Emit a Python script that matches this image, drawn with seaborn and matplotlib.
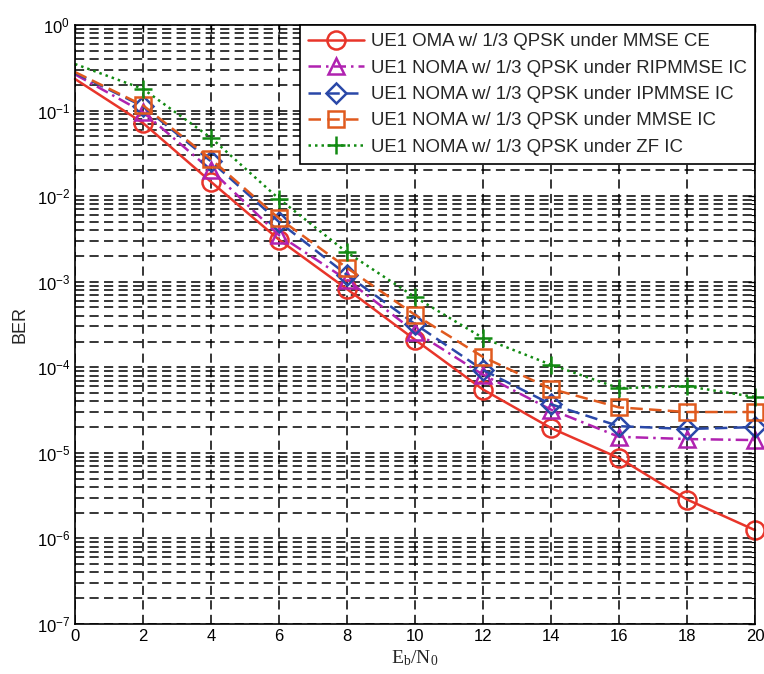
import numpy as np
import pandas as pd
import matplotlib
matplotlib.use("Agg")
import matplotlib.pyplot as plt
import matplotlib.ticker as mticker
import seaborn as sns

sns.set_theme(style="white")
plt.rcParams['font.family'] = ['Liberation Sans', 'DejaVu Sans']
plt.rcParams['mathtext.fontset'] = 'custom'
plt.rcParams['mathtext.rm'] = 'Liberation Sans'

snr = [0, 2, 4, 6, 8, 10, 12, 14, 16, 18, 20]
labels = [
    "UE1 OMA w/ 1/3 QPSK under MMSE CE",
    "UE1 NOMA w/ 1/3 QPSK under RIPMMSE IC",
    "UE1 NOMA w/ 1/3 QPSK under IPMMSE IC",
    "UE1 NOMA w/ 1/3 QPSK under MMSE IC",
    "UE1 NOMA w/ 1/3 QPSK under ZF IC",
]
ber_oma_mmse = [0.234, 0.0716, 0.0147, 0.0031, 8.2e-4, 2.1e-4, 5.5e-5, 1.95e-5, 8.7e-6, 2.85e-6, 1.25e-6]
ber_noma_ripmmse = [0.265, 0.096, 0.0202, 0.0035, 1.05e-3, 2.6e-4, 8.2e-5, 3.2e-5, 1.54e-5, 1.45e-5, 1.41e-5]
ber_noma_ipmmse = [0.275, 0.112, 0.0255, 0.0050, 1.2e-3, 3.2e-4, 9.3e-5, 3.7e-5, 2.05e-5, 1.9e-5, 2.0e-5]
ber_noma_mmse = [0.282, 0.115, 0.027, 0.0055, 1.45e-3, 4.1e-4, 1.32e-4, 5.6e-5, 3.4e-5, 3.0e-5, 3.0e-5]
ber_noma_zf = [0.35, 0.179, 0.048, 0.0093, 2.2e-3, 6.6e-4, 2.2e-4, 1.07e-4, 5.7e-5, 6.0e-5, 4.5e-5]

series = [ber_oma_mmse, ber_noma_ripmmse, ber_noma_ipmmse, ber_noma_mmse, ber_noma_zf]
colors = ["#e8352a", "#b022b0", "#2a48a8", "#e05a1e", "#128a12"]
styles = ["-", (0, (5, 2, 1, 2)), (0, (5, 2.5)), (0, (5, 2.5)), (0, (1, 1.6))]
markers = ["o", "^", "D", "s", "+"]
msizes = [13, 12, 10, 11, 13]

fig = plt.figure(figsize=(7.64, 6.74), dpi=100)
ax = fig.add_axes([75/764, 1-624/674, 680/764, 599/674])

for lab, ys, c, ls, m, ms in zip(labels, series, colors, styles, markers, msizes):
    df = pd.DataFrame({"x": snr, "y": ys})
    sns.lineplot(data=df, x="x", y="y", ax=ax, color=c, linestyle=ls, linewidth=1.8,
                 marker=m, markersize=ms, markerfacecolor='none', markeredgecolor=c,
                 markeredgewidth=1.8, markevery=slice(1, None), label=lab, clip_on=False)

ax.set_yscale('log')
ax.set_xlim(0, 20)
ax.set_ylim(1e-7, 1)
ax.set_xticks(snr)
ax.yaxis.set_major_locator(mticker.LogLocator(base=10, numticks=10))
ax.yaxis.set_minor_locator(mticker.LogLocator(base=10, subs=np.arange(2, 10), numticks=100))
ax.yaxis.set_minor_formatter(mticker.NullFormatter())
ax.yaxis.set_major_formatter(mticker.LogFormatterMathtext())

grid_kw = dict(color='black', linestyle=(0, (6, 3.5)), linewidth=1.1)
ax.grid(True, which='major', axis='both', **grid_kw)
ax.grid(True, which='minor', axis='y', **grid_kw)
ax.set_axisbelow(True)

ax.tick_params(axis='both', which='both', direction='in', top=True, right=True,
               labelsize=12, colors='black')
ax.tick_params(which='major', length=5, width=1)
ax.tick_params(which='minor', length=3, width=0.8)
for sp in ax.spines.values():
    sp.set_color('black')
    sp.set_linewidth(1.2)

ax.set_xlabel(r'$\mathregular{E_b/N_0}$', fontsize=14, family='Liberation Serif', labelpad=3)
ax.set_ylabel('BER', fontsize=13, labelpad=6)

leg = ax.legend(loc='upper right', fontsize=13.4, frameon=True, fancybox=False,
                borderaxespad=0, handlelength=3.0, labelspacing=0.5, borderpad=0.45,
                handletextpad=0.35)
leg.get_frame().set_edgecolor('black')
leg.get_frame().set_linewidth(1.2)
leg.get_frame().set_alpha(1)

fig.savefig('out.png', dpi=100)
